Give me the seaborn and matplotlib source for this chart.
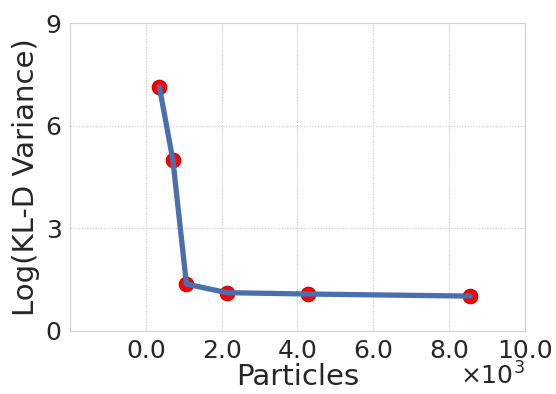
import matplotlib
matplotlib.use("Agg")
import matplotlib.pyplot as plt
import seaborn as sns
import pandas as pd
from matplotlib.ticker import FuncFormatter

particles = [357, 713, 1070, 2140, 4280, 8560]
log_kld_var = [7.14, 5.00, 1.37, 1.12, 1.08, 1.02]
x_ticks = [0, 2000, 4000, 6000, 8000, 10000]
y_ticks = [0, 3, 6, 9]
x_scale = 1000

sns.set_style("whitegrid", rc={
    "grid.linestyle": (0, (1.2, 1.3)),
    "grid.color": "#cfcfcf",
    "axes.edgecolor": "#d0d0d0",
    "axes.linewidth": 1.5,
    "grid.linewidth": 1.8,
})
plt.rcParams['font.family'] = ['DejaVu Sans']

df = pd.DataFrame({"Particles": particles, "LogVar": log_kld_var})

fig = plt.figure(figsize=(5.56, 3.94), dpi=100)
ax = fig.add_axes([0.126, 0.160, 0.818, 0.781])

sns.scatterplot(data=df, x="Particles", y="LogVar", ax=ax, color="red",
                s=110, edgecolor="#cc0000", linewidth=0.8, zorder=2)
sns.lineplot(data=df, x="Particles", y="LogVar", ax=ax, color="#4a6fae",
             linewidth=3.8, zorder=3)

ax.set_xlim(-2000, 10000)
ax.set_ylim(0, 9)
ax.set_xticks(x_ticks)
ax.set_yticks(y_ticks)
ax.xaxis.set_major_formatter(FuncFormatter(lambda v, p: f"{v / x_scale:.1f}"))

ax.tick_params(axis="both", labelsize=18, colors="#262626", length=0, pad=6)
ax.set_xlabel("Particles", fontsize=21, color="#262626", labelpad=0)
ax.set_ylabel("Log(KL-D Variance)", fontsize=21, color="#262626", labelpad=4)

ax.text(1.0, -0.175, r"$\times\mathdefault{10^{3}}$", transform=ax.transAxes,
        ha="right", va="baseline", fontsize=18, color="#262626")

fig.savefig("out.png", dpi=100)
